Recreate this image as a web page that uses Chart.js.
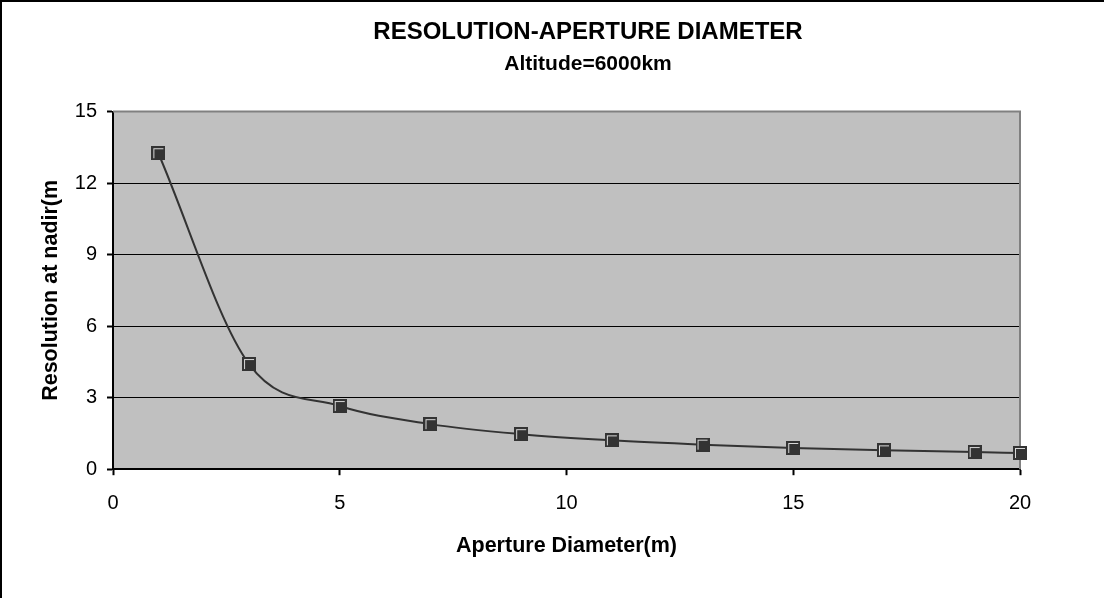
<!DOCTYPE html>
<html><head><meta charset="utf-8">
<script src="https://cdn.jsdelivr.net/npm/chart.js@4"></script>
<style>
html,body{margin:0;padding:0;background:#fff;overflow:hidden;width:1104px;height:598px;}
#frame{position:absolute;left:0;top:0;width:1172px;height:620px;border-top:2px solid #000;border-left:2px solid #000;}
canvas{display:block}
</style></head><body>
<div id="frame"><canvas id="c" width="1172" height="620"></canvas></div>
<script>
const apertureDiameters = [1, 3, 5, 7, 9, 11, 13, 15, 17, 19, 20];
const resolutionValues = [13.25, 4.41, 2.65, 1.89, 1.47, 1.21, 1.03, 0.89, 0.79, 0.72, 0.68];
const xTickValues = [0, 5, 10, 15, 20];
const yTickValues = [0, 3, 6, 9, 12, 15];
const chartTitle = 'RESOLUTION-APERTURE DIAMETER';
const chartSubtitle = 'Altitude=6000km';
const xAxisTitle = 'Aperture Diameter(m)';
const yAxisTitle = 'Resolution at nadir(m';

const FONT = "'Liberation Sans', Arial, sans-serif";

// marker image: dark square with light inner highlight
const mk = document.createElement('canvas');
mk.width = 14; mk.height = 14;
(function(){
  const g = mk.getContext('2d');
  g.fillStyle = '#333333';
  g.fillRect(0, 0, 14, 14);
  g.fillStyle = '#d8d8d8';
  g.fillRect(2, 2, 10, 1);
  g.fillRect(2, 2, 1, 10);
})();

const plotDecor = {
  id: 'plotDecor',
  beforeDraw(chart) {
    const {ctx, chartArea: a} = chart;
    ctx.save();
    ctx.fillStyle = '#c0c0c0';
    ctx.fillRect(a.left, a.top, a.right - a.left, a.bottom - a.top);
    ctx.restore();
  },
  beforeDatasetsDraw(chart) {
    const {ctx, chartArea: a} = chart;
    ctx.save();
    ctx.strokeStyle = '#808080';
    ctx.lineWidth = 2;
    ctx.beginPath();
    ctx.moveTo(a.left, a.top);
    ctx.lineTo(a.right, a.top);
    ctx.lineTo(a.right, a.bottom);
    ctx.stroke();
    ctx.restore();
  }
};

new Chart(document.getElementById('c'), {
  type: 'line',
  data: {
    datasets: [{
      data: apertureDiameters.map((x, i) => ({x: x, y: resolutionValues[i]})),
      borderColor: '#333333',
      borderWidth: 2,
      backgroundColor: '#333333',
      pointStyle: mk,
      pointRadius: 7,
      cubicInterpolationMode: 'monotone',
      clip: false,
      fill: false
    }]
  },
  options: {
    responsive: false,
    animation: false,
    devicePixelRatio: 1,
    layout: {padding: {left: 0, right: 0, top: 0, bottom: 53}},
    plugins: {
      legend: {display: false},
      tooltip: {enabled: false},
      title: {
        display: true, text: chartTitle, color: '#000',
        font: {family: FONT, size: 24, weight: 'bold', lineHeight: 1.2},
        padding: {top: 15.6, bottom: 5.5}
      },
      subtitle: {
        display: true, text: chartSubtitle, color: '#000',
        font: {family: FONT, size: 21, weight: 'bold', lineHeight: 1.2},
        padding: {top: 0, bottom: 34.4}
      }
    },
    scales: {
      x: {
        type: 'linear', min: 0, max: 20,
        afterBuildTicks: s => { s.ticks = xTickValues.map(v => ({value: v})); },
        ticks: {color: '#000', font: {family: FONT, size: 20}, padding: 16, maxRotation: 0},
        grid: {display: true, drawOnChartArea: false, tickLength: 6, tickColor: '#000', tickWidth: 2},
        border: {display: true, color: '#000', width: 2},
        title: {display: true, text: xAxisTitle, color: '#000',
          font: {family: FONT, size: 21.5, weight: 'bold', lineHeight: 1.2},
          padding: {top: 2, bottom: 10}}
      },
      y: {
        type: 'linear', min: 0, max: 15,
        afterBuildTicks: s => { s.ticks = yTickValues.map(v => ({value: v})); },
        afterFit: s => { s.width = 111; },
        ticks: {color: '#000', font: {family: FONT, size: 20}, padding: 10},
        grid: {
          color: c => (c.tick && (c.tick.value === 0 || c.tick.value === 15)) ? 'rgba(0,0,0,0)' : '#000',
          lineWidth: 1, tickLength: 6, tickColor: '#000', tickWidth: 2
        },
        border: {display: true, color: '#000', width: 2},
        title: {display: true, text: yAxisTitle, color: '#000',
          font: {family: FONT, size: 21.5, weight: 'bold', lineHeight: 1.2},
          padding: {top: 36, bottom: 4}}
      },
      yRight: {
        type: 'linear', position: 'right', display: true,
        afterFit: s => { s.width = 154; },
        grid: {display: false}, ticks: {display: false}, border: {display: false}
      }
    }
  },
  plugins: [plotDecor]
});
</script>
</body></html>
